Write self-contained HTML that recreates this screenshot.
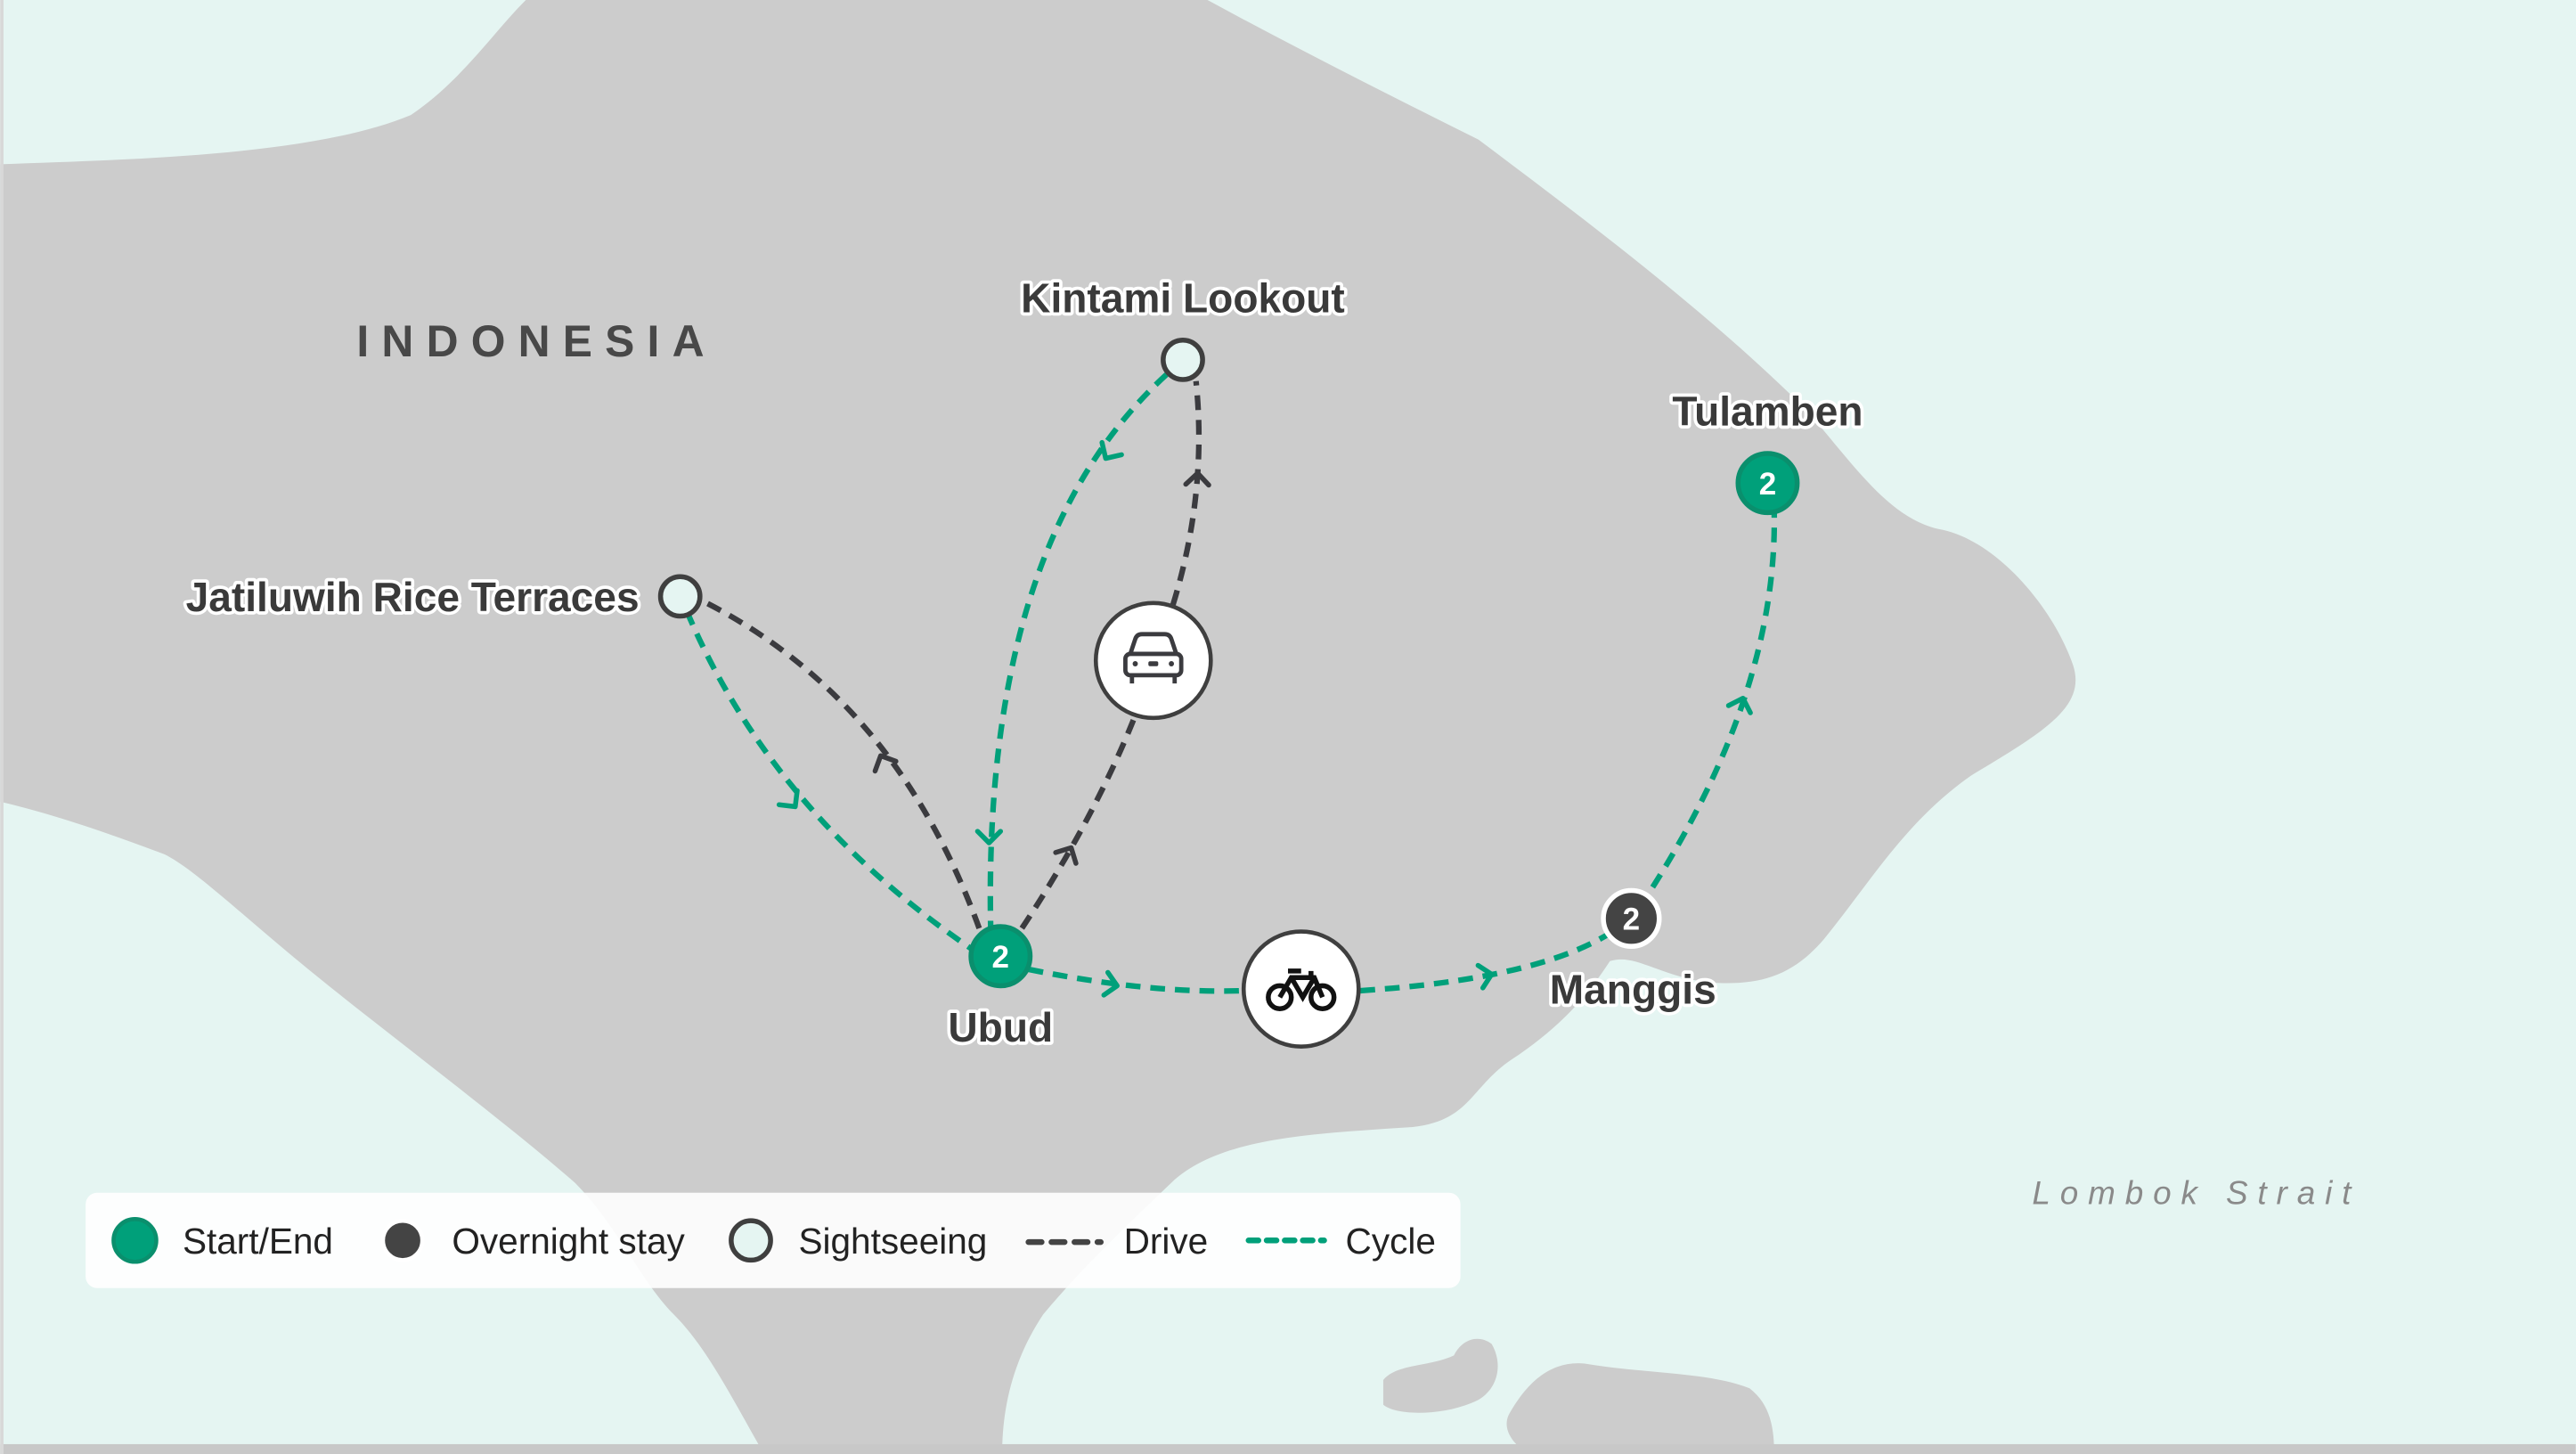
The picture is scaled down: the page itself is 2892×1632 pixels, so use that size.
<!DOCTYPE html>
<html><head><meta charset="utf-8"><style>
html,body{margin:0;padding:0;background:#e5f5f2;}
svg{display:block;}
.lbl{font-family:"Liberation Sans",sans-serif;font-weight:bold;font-size:25px;fill:#3a3a3a;stroke:#fff;stroke-width:4px;paint-order:stroke;stroke-linejoin:round;}
.leg{font-family:"Liberation Sans",sans-serif;font-size:22px;fill:#222;}
</style></head><body>
<svg width="2892" height="1632" viewBox="0 0 1568 885" xmlns="http://www.w3.org/2000/svg">
<rect width="1568" height="885" fill="#e5f5f2"/>
<path fill="#cccccc" d="M0,100 C80,97 190,95 250,70 C280,50 300,20 320,0 L735,0 C790,30 850,60 900,85 C960,130 1040,190 1100,250 C1130,285 1150,315 1180,322 C1215,328 1250,370 1262,405 C1270,430 1245,445 1200,472 C1160,500 1140,535 1110,572 C1090,595 1070,600 1040,598 C1010,594 995,580 980,585 C970,600 955,622 920,645 C895,662 895,682 860,686 C800,690 745,692 715,718 C690,742 660,770 635,800 C615,830 610,860 610,885 L465,885 C445,850 430,820 410,800 C390,780 375,745 350,720 C310,685 250,640 200,600 C150,560 120,530 100,520 C60,505 30,495 0,488 Z"/>
<path fill="#cccccc" d="M842,840 C850,830 870,832 885,825 C890,815 900,812 908,818 C915,830 912,845 900,852 C880,862 850,862 842,855 Z"/>
<path fill="#cccccc" d="M918,862 C930,840 945,828 965,830 C1000,836 1040,835 1065,845 C1078,855 1080,870 1080,885 L930,885 C920,878 915,870 918,862 Z"/>
<rect x="0" y="879" width="1568" height="6" fill="#c8c8c8"/>
<rect x="0" y="0" width="2" height="885" fill="#d8d8d8"/>

<text x="217" y="217" font-family="Liberation Sans,sans-serif" font-size="27" font-weight="bold" letter-spacing="7.7" fill="#484848">INDONESIA</text>
<text x="1237" y="733" font-family="Liberation Sans,sans-serif" font-size="20" font-style="italic" letter-spacing="5.9" fill="#8a8a8a">Lombok Strait</text>

<g fill="none" stroke-width="3.4" stroke-dasharray="9,6" stroke-linecap="butt">
<path stroke="#00a07a" d="M418,372 Q470,495 592,578"/>
<path stroke="#3b3b3f" d="M596,565 Q545,425 428,366"/>
<path stroke="#00a07a" d="M710,228 Q598,330 603,565"/>
<path stroke="#3b3b3f" d="M622,565 Q665,500 690,438"/>
<path stroke="#3b3b3f" d="M714,368 Q735,300 728,232"/>
<path stroke="#00a07a" d="M626,590 Q700,605 757,603"/>
<path stroke="#00a07a" d="M828,603 Q935,596 980,568"/>
<path stroke="#00a07a" d="M1006,540 Q1082,420 1080,312"/>
</g>
<g fill="none" stroke-width="3" stroke-linecap="round" stroke-linejoin="round">
<polyline stroke="#00a07a" points="-7,-7 0,0 -7,7" transform="translate(484,491) rotate(52)"/>
<polyline stroke="#3b3b3f" points="-7,-7 0,0 -7,7" transform="translate(536,460) rotate(-115)"/>
<polyline stroke="#00a07a" points="-7,-7 0,0 -7,7" transform="translate(673,279) rotate(122)"/>
<polyline stroke="#00a07a" points="-7,-7 0,0 -7,7" transform="translate(602,513) rotate(90)"/>
<polyline stroke="#3b3b3f" points="-7,-7 0,0 -7,7" transform="translate(652,516) rotate(-62)"/>
<polyline stroke="#3b3b3f" points="-7,-7 0,0 -7,7" transform="translate(729,288) rotate(-88)"/>
<polyline stroke="#00a07a" points="-7,-7 0,0 -7,7" transform="translate(680,600) rotate(10)"/>
<polyline stroke="#00a07a" points="-7,-7 0,0 -7,7" transform="translate(908,593) rotate(-12)"/>
<polyline stroke="#00a07a" points="-7,-7 0,0 -7,7" transform="translate(1061,425) rotate(-72)"/>
</g>

<circle cx="702" cy="402" r="35" fill="#fff" stroke="#3f3f3f" stroke-width="2.5"/>
<g fill="none" stroke="#3b3b3f" stroke-width="2.6" stroke-linejoin="round">
<path d="M688,398 L691,389 Q692,386 695,386 L709,386 Q712,386 713,389 L716,398"/>
<rect x="685" y="398" width="34" height="13" rx="3"/>
<line x1="689" y1="411" x2="689" y2="416"/><line x1="715" y1="411" x2="715" y2="416"/>
</g>
<g fill="#3b3b3f"><circle cx="691" cy="404" r="1.6"/><circle cx="713" cy="404" r="1.6"/><rect x="699" y="402.5" width="6" height="3" rx="1"/></g>

<circle cx="792" cy="602" r="35" fill="#fff" stroke="#3f3f3f" stroke-width="2.5"/>
<g fill="none" stroke="#111" stroke-width="3">
<circle cx="779" cy="607" r="7"/><circle cx="805" cy="607" r="7"/>
<path d="M779,607 L786,595 L800,595 L805,607 M786,595 L793,607 L800,595 M784,591 L792,591 M798,591 L798,595"/>
</g>

<circle cx="720" cy="219" r="12" fill="#e5f5f2" stroke="#3f3f3f" stroke-width="3"/>
<circle cx="414" cy="363" r="12" fill="#e5f5f2" stroke="#3f3f3f" stroke-width="3"/>
<circle cx="1076" cy="294" r="18" fill="#00a07a" stroke="#0a8f6d" stroke-width="3"/>
<text x="1076" y="301" text-anchor="middle" font-family="Liberation Sans,sans-serif" font-weight="bold" font-size="19" fill="#fff">2</text>
<circle cx="609" cy="582" r="18" fill="#00a07a" stroke="#0a8f6d" stroke-width="3"/>
<text x="609" y="589" text-anchor="middle" font-family="Liberation Sans,sans-serif" font-weight="bold" font-size="19" fill="#fff">2</text>
<circle cx="993" cy="559" r="17" fill="#444" stroke="#fff" stroke-width="3"/>
<text x="993" y="566" text-anchor="middle" font-family="Liberation Sans,sans-serif" font-weight="bold" font-size="19" fill="#fff">2</text>

<text class="lbl" x="720" y="190" text-anchor="middle">Kintami Lookout</text>
<text class="lbl" x="389" y="372" text-anchor="end">Jatiluwih Rice Terraces</text>
<text class="lbl" x="1076" y="259" text-anchor="middle">Tulamben</text>
<text class="lbl" x="609" y="634" text-anchor="middle">Ubud</text>
<text class="lbl" x="994" y="611" text-anchor="middle">Manggis</text>

<rect x="52" y="726" width="837" height="58" rx="7" fill="#fff" fill-opacity="0.9"/>
<circle cx="82" cy="755" r="13" fill="#00a07a" stroke="#0a8f6d" stroke-width="2.5"/>
<text class="leg" x="111" y="763">Start/End</text>
<circle cx="245" cy="755" r="12" fill="#444" stroke="#fff" stroke-width="2.5"/>
<text class="leg" x="275" y="763">Overnight stay</text>
<circle cx="457" cy="755" r="12" fill="#e5f5f2" stroke="#3f3f3f" stroke-width="3"/>
<text class="leg" x="486" y="763">Sightseeing</text>
<line x1="626" y1="756" x2="670" y2="756" stroke="#444" stroke-width="3.5" stroke-dasharray="8,6" stroke-linecap="round"/>
<text class="leg" x="684" y="763">Drive</text>
<line x1="760" y1="755" x2="806" y2="755" stroke="#00a07a" stroke-width="3.5" stroke-dasharray="6,5" stroke-linecap="round"/>
<text class="leg" x="819" y="763">Cycle</text>
</svg>
</body></html>
